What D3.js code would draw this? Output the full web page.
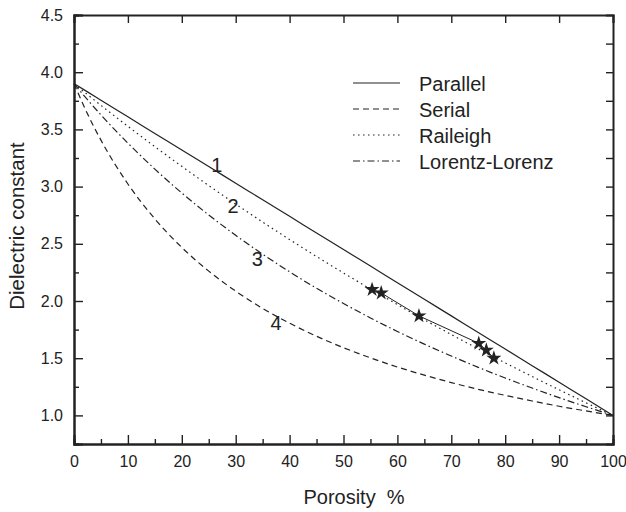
<!DOCTYPE html>
<html>
<head>
<meta charset="utf-8">
<script src="https://cdn.jsdelivr.net/npm/d3@7"></script>
<style>
  body { margin: 0; background: #fff; }
  text { font-family: "Liberation Sans", Arial, sans-serif; fill: #222; }
</style>
</head>
<body>
<div id="chart"></div>
<script>
/* DATA */
const porosity = [0, 2.5, 5, 10, 15, 20, 25, 30, 35, 40, 45, 50, 55, 60, 65, 70, 75, 80, 85, 90, 95, 100];
const parallel = [3.9, 3.828, 3.755, 3.61, 3.465, 3.32, 3.175, 3.03, 2.885, 2.74, 2.595, 2.45, 2.305, 2.16, 2.015, 1.87, 1.725, 1.58, 1.435, 1.29, 1.145, 1.0];
const serial = [3.9, 3.636, 3.406, 3.023, 2.718, 2.468, 2.261, 2.086, 1.935, 1.806, 1.692, 1.592, 1.503, 1.423, 1.352, 1.287, 1.228, 1.175, 1.126, 1.080, 1.039, 1.0];
const raileigh = [3.9, 3.804, 3.710, 3.527, 3.349, 3.177, 3.009, 2.847, 2.690, 2.537, 2.389, 2.245, 2.105, 1.968, 1.836, 1.707, 1.581, 1.459, 1.340, 1.224, 1.110, 1.0];
const lorentz = [3.9, 3.760, 3.627, 3.380, 3.153, 2.944, 2.752, 2.574, 2.409, 2.255, 2.111, 1.978, 1.852, 1.734, 1.623, 1.519, 1.420, 1.327, 1.239, 1.155, 1.076, 1.0];

// measured samples (stars)
const measPorosity = [55.3, 57.0, 64.0, 75.1, 76.5, 77.9];
const measValue = [2.10, 2.07, 1.87, 1.63, 1.57, 1.50];

const legendNames = ["Parallel", "Serial", "Raileigh", "Lorentz-Lorenz"];
const curveLabels = ["1", "2", "3", "4"];
const labelPorosity = [26.5, 29.5, 34, 37.5];
const labelValue = [3.13, 2.77, 2.31, 1.75];

const xTicks = [0, 10, 20, 30, 40, 50, 60, 70, 80, 90, 100];
const yTicks = [1.0, 1.5, 2.0, 2.5, 3.0, 3.5, 4.0, 4.5];

/* LAYOUT */
const width = 626, height = 512,
  margin = { top: 15, right: 13, bottom: 68, left: 74 };

const dashes = {
  "Parallel": null,
  "Serial": "6,4",
  "Raileigh": "1.5,3.5",
  "Lorentz-Lorenz": "7,3,1.5,3"
};
const seriesList = [parallel, serial, raileigh, lorentz];

const svg = d3.select("#chart").append("svg")
  .attr("width", width)
  .attr("height", height);

const xScale = d3.scaleLinear()
  .domain([0, 100])
  .range([margin.left, width - margin.right]);

const yScale = d3.scaleLinear()
  .domain([0.75, 4.5])
  .range([height - margin.bottom, margin.top]);

// + AXES
const xAxis = d3.axisBottom(xScale).tickValues(xTicks).tickSize(-9).tickPadding(12).tickFormat(d3.format("d"));
const xMinor = d3.axisBottom(xScale).tickValues(d3.range(5, 100, 10)).tickSize(-5).tickFormat("");
const yAxis = d3.axisLeft(yScale).tickValues(yTicks).tickSize(-9).tickPadding(11).tickFormat(d3.format(".1f"));
const yMinor = d3.axisLeft(yScale).tickValues(d3.range(0.75, 4.5, 0.5)).tickSize(-5).tickFormat("");
const xTop = d3.axisTop(xScale).tickValues(xTicks).tickSize(-8).tickFormat("");
const yRight = d3.axisRight(yScale).tickValues(d3.range(1.0, 4.5, 0.25)).tickSize(-7).tickFormat("");

const bottomY = height - margin.bottom;

function styleAxis(g) {
  g.select(".domain").attr("stroke", "#222").attr("stroke-width", 2);
  g.selectAll(".tick line").attr("stroke", "#222").attr("stroke-width", 1.4);
  g.selectAll(".tick text").attr("font-size", 16).style("fill", "#222")
    .attr("font-family", "Liberation Sans, Arial, sans-serif");
}

svg.append("g").attr("transform", `translate(0,${bottomY})`).call(xAxis).call(styleAxis);
svg.append("g").attr("transform", `translate(0,${bottomY})`).call(xMinor).call(styleAxis);
svg.append("g").attr("transform", `translate(${margin.left},0)`).call(yAxis).call(styleAxis);
svg.append("g").attr("transform", `translate(${margin.left},0)`).call(yMinor).call(styleAxis);
svg.append("g").attr("transform", `translate(0,${margin.top})`).call(xTop).call(styleAxis);
svg.append("g").attr("transform", `translate(${width - margin.right},0)`).call(yRight).call(styleAxis);

// axis titles
svg.append("text")
  .attr("x", 354)
  .attr("y", 504)
  .attr("text-anchor", "middle")
  .attr("font-size", 20)
  .style("white-space", "pre")
  .text("Porosity  %");

svg.append("text")
  .attr("transform", "rotate(-90)")
  .attr("x", -226)
  .attr("y", 24)
  .attr("text-anchor", "middle")
  .attr("font-size", 20.5)
  .text("Dielectric constant");

// + CURVES
const line = d3.line()
  .x(d => xScale(d[0]))
  .y(d => yScale(d[1]))
  .curve(d3.curveMonotoneX);

svg.selectAll(".model")
  .data(legendNames)
  .join("path")
  .attr("class", "model")
  .attr("fill", "none")
  .attr("stroke", "#222")
  .attr("stroke-width", 1.2)
  .attr("stroke-dasharray", d => dashes[d])
  .attr("d", (d, i) => line(porosity.map((p, j) => [p, seriesList[i][j]])));

// measured line + stars
const measured = measPorosity.map((p, i) => [p, measValue[i]]);
svg.append("path")
  .attr("fill", "none")
  .attr("stroke", "#222")
  .attr("stroke-width", 1)
  .attr("d", d3.line().x(d => xScale(d[0])).y(d => yScale(d[1]))(measured));

svg.selectAll(".star")
  .data(measured)
  .join("path")
  .attr("class", "star")
  .attr("transform", d => `translate(${xScale(d[0])},${yScale(d[1])})`)
  .attr("d", d3.symbol(d3.symbolStar, 70))
  .attr("fill", "#222");

// curve number labels
svg.selectAll(".clabel")
  .data(curveLabels)
  .join("text")
  .attr("class", "clabel")
  .attr("x", (d, i) => xScale(labelPorosity[i]))
  .attr("y", (d, i) => yScale(labelValue[i]))
  .attr("text-anchor", "middle")
  .attr("font-size", 20)
  .text(d => d);

// + LEGEND
const legend = svg.append("g").attr("transform", "translate(353,91)");
const rows = legend.selectAll("g")
  .data(legendNames)
  .join("g")
  .attr("transform", (d, i) => `translate(0,${i * 26})`);

rows.append("line")
  .attr("x1", 0).attr("x2", 47)
  .attr("y1", -8).attr("y2", -8)
  .attr("stroke", "#222")
  .attr("stroke-width", 1.2)
  .attr("stroke-dasharray", d => dashes[d]);

rows.append("text")
  .attr("x", 66)
  .attr("y", 0)
  .attr("font-size", 20)
  .text(d => d);
</script>
</body>
</html>
